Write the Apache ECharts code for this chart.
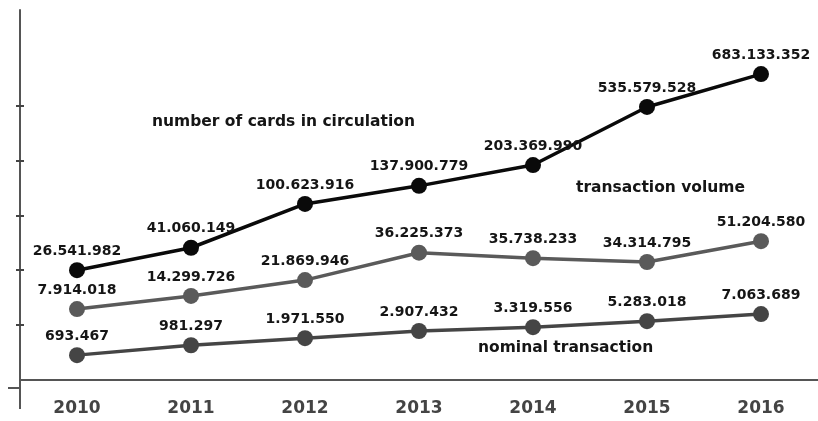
<!DOCTYPE html>
<html>
<head>
<meta charset="utf-8">
<script src="https://cdn.jsdelivr.net/npm/echarts@6/dist/echarts.min.js"></script>
<style>
  html, body { margin: 0; padding: 0; background: #fff; }
  #chart { width: 818px; height: 421px; }
</style>
</head>
<body>
<div id="chart"></div>
<script>
// chart values
const years = ['2010', '2011', '2012', '2013', '2014', '2015', '2016'];
// the picture is not drawn to scale, so each line keeps its drawn height (in tick steps)
// and the printed number is shown as its label
const cardsLevel = [2.00, 2.41, 3.21, 3.54, 3.92, 4.98, 5.58];
const cardsText = ['26.541.982', '41.060.149', '100.623.916', '137.900.779', '203.369.990', '535.579.528', '683.133.352'];
const volumeLevel = [1.29, 1.53, 1.82, 2.32, 2.22, 2.15, 2.53];
const volumeText = ['7.914.018', '14.299.726', '21.869.946', '36.225.373', '35.738.233', '34.314.795', '51.204.580'];
const nominalLevel = [0.45, 0.63, 0.76, 0.89, 0.96, 1.07, 1.20];
const nominalText = ['693.467', '981.297', '1.971.550', '2.907.432', '3.319.556', '5.283.018', '7.063.689'];
const yTicks = [1, 2, 3, 4, 5];

const font = 'DejaVu Sans';

function line(name, values, texts, color) {
  return {
    name: name,
    type: 'line',
    data: values,
    symbol: 'circle',
    symbolSize: 16,
    lineStyle: { color: color, width: 3.5 },
    itemStyle: { color: color },
    label: {
      show: true,
      position: 'top',
      distance: 4,
      color: '#151515',
      fontFamily: font,
      fontWeight: 'bold',
      fontSize: 14,
      formatter: (p) => texts[p.dataIndex]
    },
    animation: false
  };
}

const yAxisBase = {
  type: 'value',
  min: -0.15,
  max: 6.75,
  axisLabel: { show: false },
  splitLine: { show: false }
};

var myChart = echarts.init(document.getElementById('chart'));
myChart.setOption({
  backgroundColor: '#fff',
  grid: { left: 20, right: 0, top: 10, bottom: 33 },
  xAxis: {
    type: 'category',
    data: years,
    boundaryGap: true,
    axisLine: { lineStyle: { color: '#555', width: 2 } },
    axisTick: { show: false },
    axisLabel: {
      color: '#444',
      fontFamily: font,
      fontWeight: 'bold',
      fontSize: 17,
      margin: 12
    }
  },
  yAxis: [
    Object.assign({}, yAxisBase, {
      axisLine: { show: true, lineStyle: { color: '#555', width: 2 } },
      axisTick: { show: false }
    }),
    // invisible copy shifted right so its ticks cross the axis line
    Object.assign({}, yAxisBase, {
      position: 'left',
      offset: -4,
      axisLine: { show: false },
      axisTick: { show: true, inside: false, length: 8, customValues: yTicks, lineStyle: { color: '#444', width: 2 } }
    })
  ],
  graphic: [
    // axis lines run a little past where they cross
    { type: 'line', shape: { x1: 20, y1: 388, x2: 20, y2: 409 }, style: { stroke: '#555', lineWidth: 2 } },
    { type: 'line', shape: { x1: 8, y1: 388, x2: 20, y2: 388 }, style: { stroke: '#555', lineWidth: 2 } },
    { type: 'text', left: 152, top: 114, style: { text: 'number of cards in circulation', fill: '#151515', font: 'bold 15.5px "DejaVu Sans"' } },
    { type: 'text', left: 576, top: 180, style: { text: 'transaction volume', fill: '#151515', font: 'bold 15.5px "DejaVu Sans"' } },
    { type: 'text', left: 478, top: 340, style: { text: 'nominal transaction', fill: '#151515', font: 'bold 15.5px "DejaVu Sans"' } }
  ],
  series: [
    line('nominal transaction', nominalLevel, nominalText, '#454545'),
    line('transaction volume', volumeLevel, volumeText, '#5a5a5a'),
    line('number of cards in circulation', cardsLevel, cardsText, '#0a0a0a')
  ]
});
</script>
</body>
</html>
